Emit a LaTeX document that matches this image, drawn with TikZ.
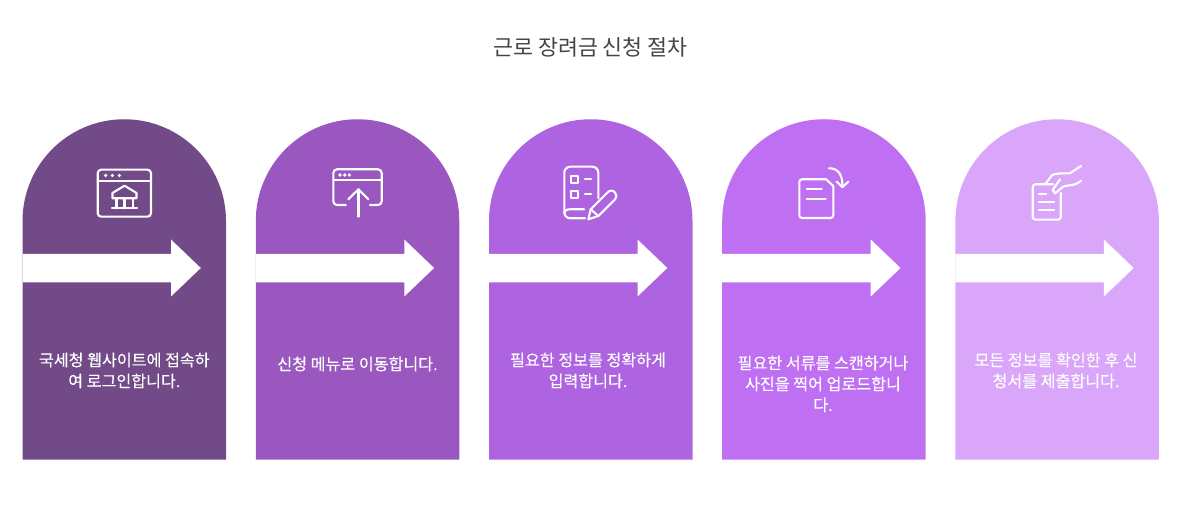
\documentclass[tikz,border=0pt]{standalone}
\usepackage{fontspec}
\newfontfamily\krfont{Noto Sans CJK KR}
\newfontface\krcaption[FakeBold=0.25]{Noto Sans CJK KR}
\definecolor{stepa}{HTML}{714A87}
\definecolor{stepb}{HTML}{9957BF}
\definecolor{stepc}{HTML}{AE64E0}
\definecolor{stepd}{HTML}{BF6FF2}
\definecolor{stepe}{HTML}{D9A6F9}
\definecolor{titlegray}{HTML}{444444}
\newcommand{\archbody}[2]{%
  \fill[#2] (#1,459.5) -- (#1,221) arc[start angle=180,end angle=360,radius=101.75] -- ++(0,238.5) -- cycle;
  \fill[white] (#1,254) -- ++(148.5,0) -- ++(0,-14.5) -- ++(29.8,28.5) -- ++(-29.8,28.5) -- ++(0,-14) -- ++(-148.5,0) -- cycle;
}
\tikzset{
  icon/.style={draw=white,line width=2.1pt,line cap=round,line join=round},
  dot/.style={fill=white},
  caption/.style={text=white,align=center,font=\krcaption\fontsize{16.15}{21}\selectfont,inner sep=0pt},
  heading/.style={text=titlegray,font=\krfont\fontsize{21.7}{26}\selectfont,inner sep=0pt}
}
\begin{document}
\begin{tikzpicture}[x=1pt,y=-1pt]
\useasboundingbox (0,0) rectangle (1178,510);
\node[heading] (title) at (590.5,47) {근로 장려금 신청 절차};
\archbody{22.5}{stepa}
\archbody{255.8}{stepb}
\archbody{489}{stepc}
\archbody{722.2}{stepd}
\archbody{955.4}{stepe}
\node[caption] (t1) at (124.3,370.5) {국세청 웹사이트에 접속하\\여 로그인합니다.};
\node[caption] (t2) at (357.5,364) {신청 메뉴로 이동합니다.};
\node[caption] (t3) at (588,370.5) {필요한 정보를 정확하게\\입력합니다.};
\node[caption] (t4) at (823,384) {필요한 서류를 스캔하거나\\사진을 찍어 업로드합니\\다.};
\node[caption] (t5) at (1056,370.5) {모든 정보를 확인한 후 신\\청서를 제출합니다.};
% icon 1
\draw[icon,rounded corners=3.5pt] (97.7,169.7) rectangle (151,216.7);
\draw[icon] (97.7,180.7) -- (151,180.7);
\foreach \x in {105.7,112.4,119.4}{\fill[dot] (\x,175.5) circle[radius=1.8];}
\draw[icon] (124.5,185.7) -- (112.5,193) -- (112.5,198.3) -- (136.5,198.3) -- (136.5,193) -- cycle;
\draw[icon] (116.5,198.3) -- (116.5,208.3) (124.5,198.3) -- (124.5,208.3) (133,198.3) -- (133,208.3);
\draw[icon] (112,208.3) -- (137,208.3);
% icon 2
\draw[icon,rounded corners=3.7pt] (345.7,205) -- (333.3,205) -- (333.3,169.3) -- (381.7,169.3) -- (381.7,205) -- (370,205);
\draw[icon] (333.3,180) -- (381.7,180);
\foreach \x in {340,344.7,349.3}{\fill[dot] (\x,175) circle[radius=1.8];}
\draw[icon] (358.5,216.7) -- (358.5,189.3);
\draw[icon] (348.3,199.3) -- (358.5,189.3) -- (368.3,199.3);
% icon 3
\draw[icon,rounded corners=6pt] (585,218.3) -- (564.3,218.3) -- (564.3,166.7) -- (598.3,166.7) -- (598.3,198.3);
\draw[icon] (584,209.3) -- (570,209.3) .. controls (566,209.3) and (564.3,211) .. (564.3,213);
\draw[icon] (571,176) rectangle (578.3,183.3);
\draw[icon] (571,191) rectangle (578.3,198.3);
\draw[icon] (585,179.3) -- (591,179.3) (585,194.3) -- (591,194.3);
\draw[icon] (588.3,219.3) -- (590.7,209.3) -- (607.5,192.5) .. controls (610,190) and (613,190) .. (615,192.5) .. controls (617,195) and (617,197.5) .. (615,199.5) -- (598.3,216) -- cycle;
\draw[icon] (590.7,209.3) -- (598.3,216);
% icon 4
\draw[icon,rounded corners=2.7pt] (826,179.3) -- (799.3,179.3) -- (799.3,218) -- (833.3,218) -- (833.3,186);
\draw[icon] (833.3,186) -- (826,179.3);
\draw[icon] (806.7,188.7) -- (821.7,188.7) (806.7,198.7) -- (825.7,198.7);
\draw[icon] (829,168.3) .. controls (838,168) and (843,175) .. (842.3,186.7);
\draw[icon] (836.7,181.7) -- (842.3,187.2) -- (848.3,181.7);
% icon 5
\draw[icon,rounded corners=2.7pt] (1053,184.3) -- (1032.7,184.3) -- (1032.7,219.7) -- (1060.7,219.7) -- (1060.7,193);
\draw[icon] (1039,193.7) -- (1046,193.7) (1039,201.7) -- (1054,201.7) (1039,210) -- (1054,210);
\draw[icon] (1046,183.3) -- (1051.7,175.5) .. controls (1054,173) and (1062,173.5) .. (1070,173.3) -- (1081,166);
\draw[icon] (1081,180.7) .. controls (1077,184) and (1075,184.5) .. (1072,185) -- (1065,186) .. controls (1061,187) and (1059,191) .. (1055,193.3) -- (1052.7,190) -- (1060,179.3);
\end{tikzpicture}
\end{document}
